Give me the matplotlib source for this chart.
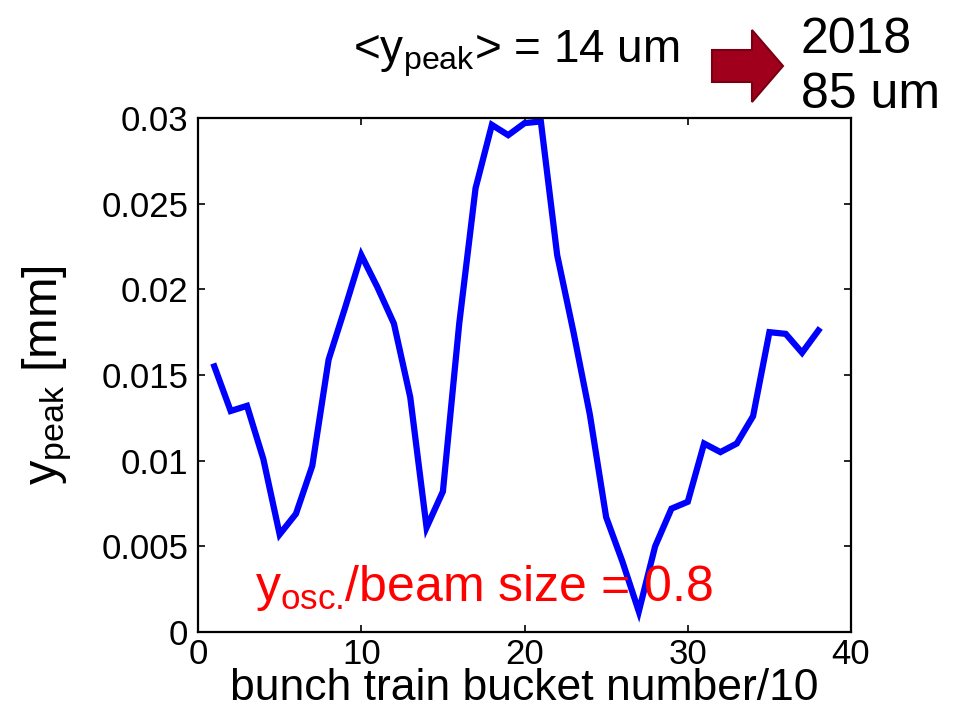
import numpy as np
import matplotlib
matplotlib.use('Agg')
import matplotlib.pyplot as plt
from matplotlib.patches import FancyArrow

plt.rcParams['font.family'] = ['Liberation Sans', 'DejaVu Sans']
plt.rcParams['mathtext.fontset'] = 'custom'
plt.rcParams['mathtext.rm'] = 'Liberation Sans'
plt.rcParams['mathtext.it'] = 'Liberation Sans'

# peak offset per bucket group
bucket = np.arange(1, 39)
y_peak = [0.0155, 0.0129, 0.0132, 0.0101, 0.0057, 0.0069, 0.0097, 0.0159, 0.0189, 0.0220,
          0.0201, 0.0180, 0.0137, 0.0061, 0.0082, 0.0180, 0.0259, 0.0296, 0.0290, 0.0297,
          0.0298, 0.0220, 0.0175, 0.0127, 0.0067, 0.0041, 0.0012, 0.0050, 0.0072, 0.0076,
          0.0110, 0.0105, 0.0110, 0.0126, 0.0175, 0.0174, 0.0163, 0.0176]

xticks = [0, 10, 20, 30, 40]
yticks = [0, 0.005, 0.01, 0.015, 0.02, 0.025, 0.03]
ytick_labels = ['0', '0.005', '0.01', '0.015', '0.02', '0.025', '0.03']

fig = plt.figure(figsize=(9.65, 7.13), dpi=100)
ax = fig.add_axes([0.2052, 0.1136, 0.6767, 0.7209])

ax.plot(bucket, y_peak, color='#0000ff', linewidth=4.5, solid_joinstyle='miter')

ax.set_xlim(0, 40)
ax.set_ylim(0, 0.03)
ax.set_xticks(xticks)
ax.set_yticks(yticks)
ax.set_yticklabels(ytick_labels)
ax.tick_params(direction='in', top=True, right=True, length=5, width=1.2,
               labelsize=25)
ax.tick_params(axis='y', pad=7)
ax.tick_params(axis='x', pad=4)
for s in ax.spines.values():
    s.set_linewidth(1.6)

ax.set_xlabel('bunch train bucket number/10', fontsize=32, labelpad=-2)
ax.set_ylabel(r'y$_{\mathrm{peak}}$ [mm]', fontsize=35, labelpad=20)

ax.text(3.5, 0.0018, r'y$_{\mathrm{osc.}}\!$/beam size = 0.8', color='#ff0000',
        fontsize=36)

# header annotation
fig.text(0.366, 0.925, r'<y$_{\mathrm{peak}}$> = 14 um', fontsize=33, va='center')
fig.add_artist(FancyArrow(7.12, 6.47, 0.71, 0, width=0.32, head_width=0.72,
                          head_length=0.31, length_includes_head=True,
                          transform=fig.dpi_scale_trans,
                          facecolor='#a0001c', edgecolor='#780012', linewidth=1.5))
fig.text(0.830, 0.906, '2018\n85 um', fontsize=36, va='center', linespacing=1.25)

fig.savefig('out.png', dpi=100)
